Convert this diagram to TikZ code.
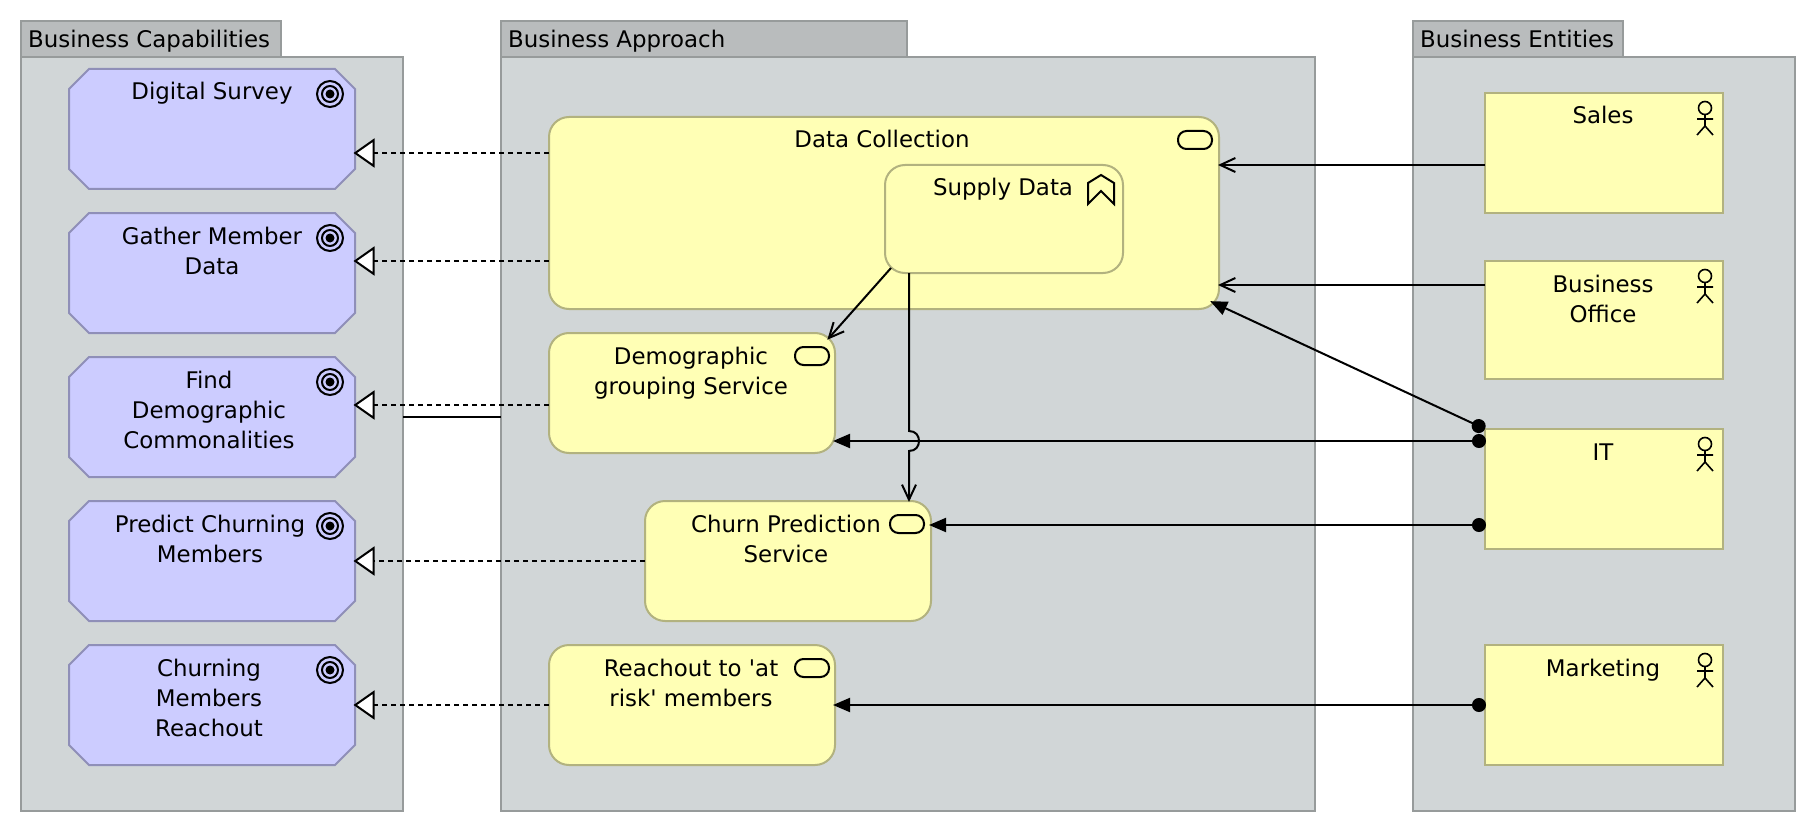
\documentclass[tikz,border=0pt]{standalone}
\usepackage{fontspec}
\setmainfont{DejaVu Sans}
\font\plainlabelfont="DejaVu Sans" at 22.9pt
\usetikzlibrary{arrows.meta}
\definecolor{grpfill}{HTML}{D1D6D7}
\definecolor{grpline}{HTML}{979B9B}
\definecolor{tabfill}{HTML}{B9BCBD}
\definecolor{bizfill}{HTML}{FFFFB5}
\definecolor{bizline}{HTML}{B2B27F}
\definecolor{goalfill}{HTML}{CCCCFF}
\definecolor{goalline}{HTML}{8F8FB8}
\tikzset{
  wh/.style 2 args={minimum width=#1pt,minimum height=#2pt},
  boxbase/.style={anchor=north west,inner sep=0pt,outer sep=0pt,line width=2pt},
  grp/.style={boxbase,draw=grpline,fill=grpfill},
  tabbox/.style={boxbase,draw=grpline,fill=tabfill},
  actorbox/.style={boxbase,draw=bizline,fill=bizfill},
  svc/.style={boxbase,draw=bizline,fill=bizfill,rounded corners=20pt},
  goalbox/.style={boxbase,wh={286}{120}},
  goaloutline/.style={draw=goalline,fill=goalfill,line width=2pt},
  lbl/.style={inner sep=0pt,align=center,anchor=base,font=\fontsize{22.9}{30}\selectfont\plainlabelfont},
  ttl/.style={inner sep=0pt,anchor=base west,font=\fontsize{22.9}{30}\selectfont\plainlabelfont},
  icon/.style={line width=2pt,draw=black},
  thinicon/.style={line width=1.6pt,draw=black},
  conn/.style={line width=2pt,draw=black},
  realize/.style={conn,dash pattern=on 5.5pt off 3.5pt,shorten >=-1.5pt,-{Triangle[open,length=21pt,width=29pt,fill=white,line width=2pt]}},
  flow/.style={conn,shorten >=-1pt,-{Straight Barb[length=15pt,width=14pt,line width=2pt]}},
  assign/.style={conn,shorten >=-2pt,{Circle[length=14pt]}-{Triangle[length=17pt,width=14pt]}},
  targeticon/.pic={
    \draw[icon] (0,0) circle (13pt);
    \draw[icon] (0,0) circle (8pt);
    \fill (0,0) circle (4.5pt);
  },
  pillicon/.pic={
    \draw[icon,rounded corners=8.5pt] (0,0) rectangle (34,18);
  },
  actoricon/.pic={
    \draw[thinicon] (0,-11) circle (6.5pt);
    \draw[thinicon] (0,-4.5) -- (0,7) (-8,0) -- (8,0) (-8,16) -- (0,7) -- (8,16);
  }
}
\begin{document}
\begin{tikzpicture}[x=1pt,y=-1pt]
\useasboundingbox[fill=white] (0,0) rectangle (1816,832);
% groups
\node[tabbox,wh={260}{36}] (tab1) at (21,21) {};
\node[grp,wh={382}{754}] (grp1) at (21,57) {};
\node[tabbox,wh={406}{36}] (tab2) at (501,21) {};
\node[grp,wh={814}{754}] (grp2) at (501,57) {};
\node[tabbox,wh={210}{36}] (tab3) at (1413,21) {};
\node[grp,wh={382}{754}] (grp3) at (1413,57) {};
\node[ttl] (t1) at (28,48) {Business Capabilities};
\node[ttl] (t2) at (508,48) {Business Approach};
\node[ttl] (t3) at (1420,48) {Business Entities};
% goals
\node[goalbox] (g1) at (69,69) {};
\node[goalbox] (g2) at (69,213) {};
\node[goalbox] (g3) at (69,357) {};
\node[goalbox] (g4) at (69,501) {};
\node[goalbox] (g5) at (69,645) {};
\foreach \n in {g1,g2,g3,g4,g5} {
  \draw[goaloutline] ([xshift=20pt]\n.north west) -- ([xshift=-20pt]\n.north east)
    -- ([yshift=-20pt]\n.north east) -- ([yshift=20pt]\n.south east)
    -- ([xshift=-20pt]\n.south east) -- ([xshift=20pt]\n.south west)
    -- ([yshift=20pt]\n.south west) -- ([yshift=-20pt]\n.north west) -- cycle;
  \path ([shift={(-25,25)}]\n.north east) pic {targeticon};
}
\node[lbl] (lg1) at (212,100) {Digital Survey};
\node[lbl] (lg2) at (212,274) {Gather Member\\Data};
\node[lbl] (lg3) at (209,448) {Find\\Demographic\\Commonalities};
\node[lbl] (lg4) at (210,562) {Predict Churning\\Members};
\node[lbl] (lg5) at (209,736) {Churning\\Members\\Reachout};
% services
\node[svc,wh={670}{192}] (dc) at (549,117) {};
\node[svc,wh={238}{108}] (sd) at (885,165) {};
\node[svc,wh={286}{120}] (dg) at (549,333) {};
\node[svc,wh={286}{120}] (cp) at (645,501) {};
\node[svc,wh={286}{120}] (ro) at (549,645) {};
\path ([shift={(-41,14)}]dc.north east) pic {pillicon};
\path ([shift={(-40,14)}]dg.north east) pic {pillicon};
\path ([shift={(-41,14)}]cp.north east) pic {pillicon};
\path ([shift={(-40,14)}]ro.north east) pic {pillicon};
\draw[icon,line join=miter] ([shift={(-35,18)}]sd.north east) -- ++(13,-8) -- ++(13,8) -- ++(0,21) -- ++(-13,-13) -- ++(-13,13) -- cycle;
\node[lbl] (ldc) at (882,148) {Data Collection};
\node[lbl] (lsd) at (1003,196) {Supply Data};
\node[lbl] (ldg) at (691,394) {Demographic\\grouping Service};
\node[lbl] (lcp) at (786,562) {Churn Prediction\\Service};
\node[lbl] (lro) at (691,706) {Reachout to 'at\\risk' members};
% actors
\node[actorbox,wh={238}{120}] (sa) at (1485,93) {};
\node[actorbox,wh={238}{118}] (bo) at (1485,261) {};
\node[actorbox,wh={238}{120}] (it) at (1485,429) {};
\node[actorbox,wh={238}{120}] (mk) at (1485,645) {};
\foreach \n in {sa,bo,it,mk} \path ([shift={(-18,26)}]\n.north east) pic {actoricon};
\node[lbl] (lsa) at (1603,124) {Sales};
\node[lbl] (lbo) at (1603,322) {Business\\Office};
\node[lbl] (lit) at (1603,460) {IT};
\node[lbl] (lmk) at (1603,676) {Marketing};
% connectors
\draw[realize] (dc.west |- 0,153) -- (g1.east |- 0,153);
\draw[realize] (dc.west |- 0,261) -- (g2.east |- 0,261);
\draw[realize] (dg.west |- 0,405) -- (g3.east |- 0,405);
\draw[realize] (cp.west |- 0,561) -- (g4.east |- 0,561);
\draw[realize] (ro.west |- 0,705) -- (g5.east |- 0,705);
\draw[conn] (grp1.east |- 0,417) -- (grp2.west |- 0,417);
\draw[flow] (sa.west |- 0,165) -- (dc.east |- 0,165);
\draw[flow] (bo.west |- 0,285) -- (dc.east |- 0,285);
\draw[flow] ([shift={(6,-5)}]sd.south west) -- ([shift={(-7,6)}]dg.north east);
\coordinate (jumpA) at (909,431);
\coordinate (jumpB) at (909,451);
\draw[flow] (jumpA |- sd.south) -- (jumpA) .. controls (916,431) and (919,436) .. (919,441) .. controls (919,446) and (916,451) .. (jumpB) -- (jumpB |- cp.north);
\draw[assign] (it.north west) -- ([shift={(-7,-7)}]dc.south east);
\draw[assign] (it.west |- 0,441) ++(1,0) -- (dg.east |- 0,441);
\draw[assign] (it.west |- 0,525) ++(1,0) -- (cp.east |- 0,525);
\draw[assign] (mk.west |- 0,705) ++(1,0) -- (ro.east |- 0,705);
\end{tikzpicture}
\end{document}
